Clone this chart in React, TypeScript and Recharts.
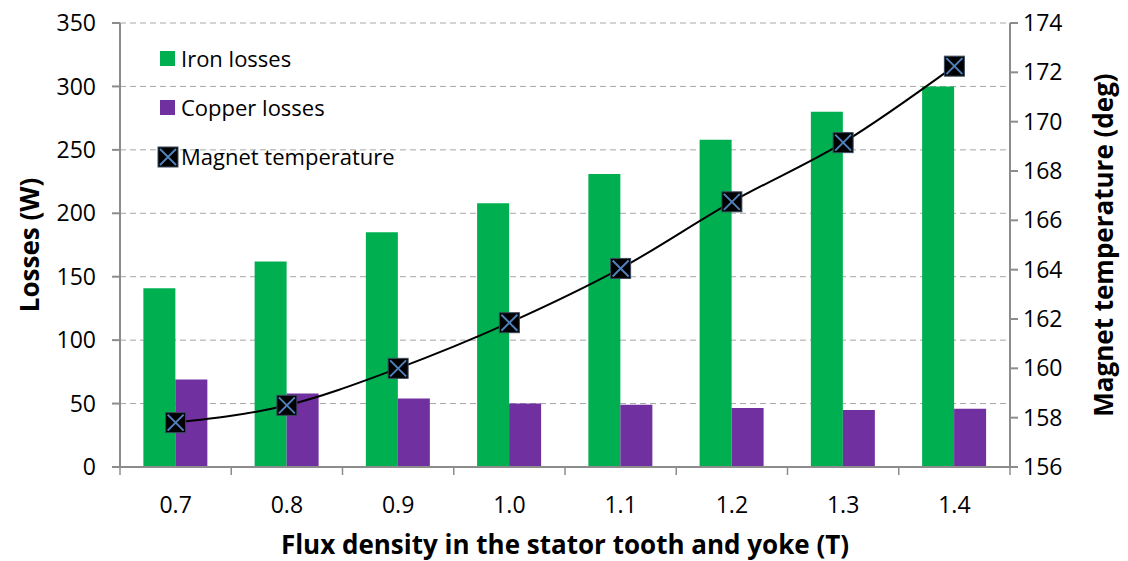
import { ComposedChart, Bar, Line, XAxis, YAxis, CartesianGrid, Legend } from "recharts";

const fluxLabels = ["0.7", "0.8", "0.9", "1.0", "1.1", "1.2", "1.3", "1.4"];
const ironLosses = [141, 162, 185, 208, 231, 258, 280, 300];
const copperLosses = [69, 58, 54, 50, 49, 46.5, 45, 46];
const magnetTemp = [157.8, 158.5, 160.0, 161.85, 164.05, 166.75, 169.15, 172.25];
const lossTicks = [0, 50, 100, 150, 200, 250, 300, 350];
const tempTicks = [156, 158, 160, 162, 164, 166, 168, 170, 172, 174];

const data = fluxLabels.map((flux, i) => ({
  flux,
  iron: ironLosses[i],
  copper: copperLosses[i],
  temp: magnetTemp[i],
}));

const FONT = "'Open Sans', sans-serif";
const GREEN = "#00B050";
const PURPLE = "#7030A0";
const AXIS = "#8C8C8C";
const XBLUE = "#4F81BD";

const W = 1128;
const H = 561;
const M = { top: 23, right: 0, left: 0, bottom: 0 };
const LEFT_W = 120;
const RIGHT_W = 118;
const X_H = 94;
const plotW = W - LEFT_W - RIGHT_W;
const step = plotW / fluxLabels.length;
const axisY = H - X_H;

const XMarker = (props: any) => {
  const { cx, cy } = props;
  if (cx == null || cy == null) return null;
  const s = 10;
  return (
    <g>
      <rect x={cx - s} y={cy - s} width={2 * s} height={2 * s} fill="#000" stroke="#3a4a5e" strokeWidth={1} />
      <path d={`M${cx - s + 2},${cy - s + 2}L${cx + s - 2},${cy + s - 2}M${cx + s - 2},${cy - s + 2}L${cx - s + 2},${cy + s - 2}`} stroke={XBLUE} strokeWidth={2} />
    </g>
  );
};

const XTick = (props: any) => {
  const { x, index, payload } = props;
  const last = index === fluxLabels.length - 1;
  return (
    <g>
      <line x1={x - step / 2} x2={x - step / 2} y1={axisY} y2={axisY + 8} stroke={AXIS} strokeWidth={1.5} />
      {last && <line x1={x + step / 2} x2={x + step / 2} y1={axisY} y2={axisY + 8} stroke={AXIS} strokeWidth={1.5} />}
      <text x={x} y={axisY + 46} textAnchor="middle" fontSize={23} fill="#000" fontFamily={FONT}>
        {payload.value}
      </text>
    </g>
  );
};

const renderLegend = () => {
  const items = [
    { label: "Iron losses", color: GREEN, kind: "bar" },
    { label: "Copper losses", color: PURPLE, kind: "bar" },
    { label: "Magnet temperature", color: "#000", kind: "marker" },
  ];
  return (
    <svg width={320} height={140} style={{ display: "block", overflow: "visible" }}>
      {items.map((it, i) => {
        const cy = 14 + i * 49;
        return (
          <g key={it.label}>
            {it.kind === "bar" ? (
              <rect x={2} y={cy - 8} width={15} height={15} fill={it.color} />
            ) : (
              <XMarker cx={10} cy={cy} />
            )}
            <text x={23} y={cy + 8} fontSize={22} fontFamily={FONT} fill="#000">
              {it.label}
            </text>
          </g>
        );
      })}
    </svg>
  );
};

const LeftTitle = (props: any) => {
  const { viewBox } = props;
  const cy = viewBox.y + viewBox.height / 2;
  return (
    <text x={39} y={cy} transform={`rotate(-90, 39, ${cy})`} textAnchor="middle" fontSize={26} fontWeight="bold" fontFamily={FONT} fill="#000">
      Losses (W)
    </text>
  );
};

const RightTitle = (props: any) => {
  const { viewBox } = props;
  const cy = viewBox.y + viewBox.height / 2;
  const x = W - 15;
  return (
    <text x={x} y={cy} transform={`rotate(-90, ${x}, ${cy})`} textAnchor="middle" fontSize={26} fontWeight="bold" fontFamily={FONT} fill="#000">
      Magnet temperature (deg)
    </text>
  );
};

const BottomTitle = (props: any) => {
  const { viewBox } = props;
  const cx = viewBox.x + viewBox.width / 2;
  return (
    <text x={cx} y={H - 7} textAnchor="middle" fontSize={26} fontWeight="bold" fontFamily={FONT} fill="#000">
      Flux density in the stator tooth and yoke (T)
    </text>
  );
};

export default function App() {
  return (
    <div style={{ position: "absolute", left: 0, top: 0, width: W, height: H, background: "#fff" }}>
      <ComposedChart width={W} height={H} data={data} margin={M} barGap={0} barCategoryGap="21%">
        <CartesianGrid horizontal vertical={false} stroke="#A6A6A6" strokeDasharray="6 4" yAxisId="loss" />
        <XAxis
          dataKey="flux"
          height={X_H}
          stroke={AXIS}
          strokeWidth={2}
          tickLine={false}
          tick={<XTick />}
          interval={0}
          label={<BottomTitle />}
        />
        <YAxis
          yAxisId="loss"
          width={LEFT_W}
          domain={[0, 350]}
          ticks={lossTicks}
          interval={0}
          stroke={AXIS}
          strokeWidth={2}
          tickSize={8}
          tickMargin={16}
          tick={{ fontSize: 23, fill: "#000", fontFamily: FONT }}
          label={<LeftTitle />}
        />
        <YAxis
          yAxisId="temp"
          orientation="right"
          width={RIGHT_W}
          domain={[156, 174]}
          ticks={tempTicks}
          interval={0}
          stroke={AXIS}
          strokeWidth={2}
          tickSize={8}
          tickMargin={5}
          tick={{ fontSize: 23, fill: "#000", fontFamily: FONT }}
          label={<RightTitle />}
        />
        <Legend
          layout="vertical"
          align="center"
          verticalAlign="middle"
          content={renderLegend}
          wrapperStyle={{ left: 158, top: 45, width: 320, height: 140 }}
        />
        <Bar yAxisId="loss" dataKey="iron" name="Iron losses" fill={GREEN} isAnimationActive={false} />
        <Bar yAxisId="loss" dataKey="copper" name="Copper losses" fill={PURPLE} isAnimationActive={false} />
        <Line
          yAxisId="temp"
          dataKey="temp"
          name="Magnet temperature"
          type="monotone"
          stroke="#000"
          strokeWidth={2}
          dot={<XMarker />}
          activeDot={false}
          isAnimationActive={false}
        />
      </ComposedChart>
    </div>
  );
}
